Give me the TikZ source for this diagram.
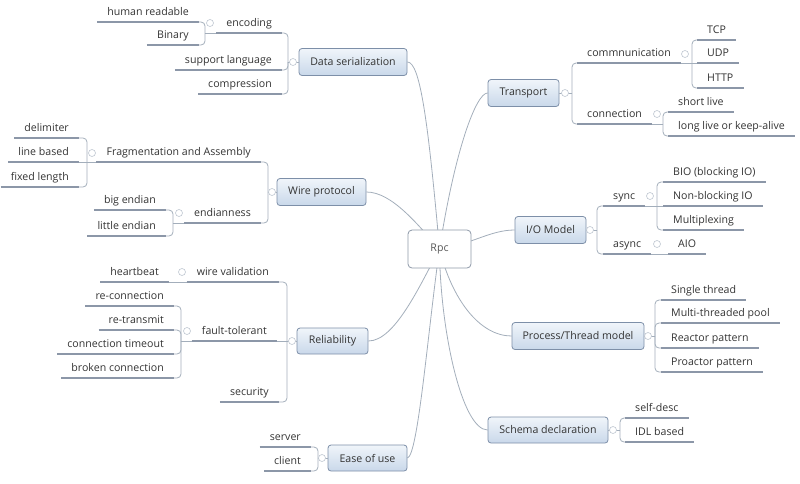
\documentclass[tikz,border=0pt]{standalone}
\usepackage{fontspec}
\setmainfont{Open Sans}
\usetikzlibrary{backgrounds}
\definecolor{txt}{HTML}{333333}
\definecolor{ulc}{HTML}{8C97A8}
\definecolor{connc}{HTML}{A3AEBB}
\definecolor{topicborder}{HTML}{7D8FA8}
\definecolor{topictop}{HTML}{F0F5FA}
\definecolor{topicbot}{HTML}{C9D8EA}
\definecolor{markc}{HTML}{BFC7D1}
\definecolor{rpcborder}{HTML}{8E99A8}
\begin{document}
\begin{tikzpicture}[x=1pt,y=-1pt, font=\fontsize{10.6}{12}\selectfont, text=txt,
  topic/.style={draw=topicborder, line width=0.8pt, rounded corners=3pt, top color=topictop, bottom color=topicbot, inner sep=0pt},
  central/.style={draw=rpcborder, line width=0.8pt, rounded corners=4pt, fill=white, inner sep=0pt, minimum width=63pt, minimum height=38pt, text=black!65},
  leaf/.style={inner xsep=10pt, inner ysep=3.9pt, text height=8pt, text depth=2.7pt},
  lleaf/.style={leaf, anchor=south east},
  rleaf/.style={leaf, anchor=south west},
  ul/.style={draw=ulc, line width=1.2pt},
  link/.style={draw=connc, line width=0.8pt, rounded corners=4pt},
  mainlink/.style={draw=connc, line width=0.8pt},
  marker/.style={circle, draw=markc, fill=white, line width=0.6pt, inner sep=0pt, minimum size=7pt}
]
\useasboundingbox (0,0) rectangle (800,483);

% central and main topics
\node[central] (rpc) at (439.5,249) {Rpc};
\node[topic, minimum width=108pt, minimum height=27pt] (ds) at (353,62) {Data serialization};
\node[topic, minimum width=89pt, minimum height=27pt] (wp) at (321.5,192) {Wire protocol};
\node[topic, minimum width=71pt, minimum height=26pt] (rel) at (332.5,341) {Reliability};
\node[topic, minimum width=79pt, minimum height=26pt] (eou) at (367.5,458) {Ease of use};
\node[topic, minimum width=71pt, minimum height=27pt] (tr) at (523.5,93) {Transport};
\node[topic, minimum width=71pt, minimum height=27pt] (io) at (550.5,230) {I/O Model};
\node[topic, minimum width=132pt, minimum height=27pt] (pt) at (578,336) {Process/Thread model};
\node[topic, minimum width=120pt, minimum height=26pt] (sc) at (548,430) {Schema declaration};

% junction coordinates
\coordinate (dsJ) at (288,62);
\coordinate (wpJ) at (268,192);
\coordinate (relJ) at (287,341);
\coordinate (eouJ) at (318,458);
\coordinate (trJ) at (572,93);
\coordinate (ioJ) at (597,230);
\coordinate (ptJ) at (655,336);
\coordinate (scJ) at (620,430);
\coordinate (encJ) at (205,33);
\coordinate (fragJ) at (87,162);
\coordinate (endJ) at (173,223);
\coordinate (ftJ) at (181,341);
\coordinate (commJ) at (692,63);
\coordinate (connJ) at (663,124);
\coordinate (syncJ) at (657,206);

% left leaves
\node[lleaf] (enc) at (282,33) {encoding};
\node[lleaf] (sup) at (282,70) {support language};
\node[lleaf] (comp) at (282,94) {compression};
\node[lleaf] (hr) at (199,22) {human readable};
\node[lleaf] (bin) at (199,45) {Binary};
\node[lleaf] (frag) at (261,162) {Fragmentation and Assembly};
\node[lleaf] (endian) at (261,223) {endianness};
\node[lleaf] (delim) at (79,138) {delimiter};
\node[lleaf] (lineb) at (79,162) {line based};
\node[lleaf] (fixl) at (79,187) {fixed length};
\node[lleaf] (big) at (166,210) {big endian};
\node[lleaf] (little) at (166,236) {little endian};
\node[lleaf] (wv) at (279,282) {wire validation};
\node[lleaf] (ft) at (277,341) {fault-tolerant};
\node[lleaf] (sec) at (279,402) {security};
\node[lleaf] (hb) at (169,282) {heartbeat};
\node[lleaf] (rec) at (174,306) {re-connection};
\node[lleaf] (retr) at (174,330) {re-transmit};
\node[lleaf] (cto) at (174,354) {connection timeout};
\node[lleaf] (broken) at (174,378) {broken connection};
\node[lleaf] (server) at (311,447) {server};
\node[lleaf] (client) at (311,471) {client};

% right leaves
\node[rleaf] (comm) at (577,63) {commnunication};
\node[rleaf] (conn) at (577,124) {connection};
\node[rleaf] (tcp) at (697,40) {TCP};
\node[rleaf] (udp) at (697,63) {UDP};
\node[rleaf] (http) at (697,88) {HTTP};
\node[rleaf] (short) at (668,112) {short live};
\node[rleaf] (long) at (668,136) {long live or keep-alive};
\node[rleaf] (sync) at (603,206) {sync};
\node[rleaf] (async) at (603,254) {async};
\node[rleaf] (bio) at (663,182) {BIO (blocking IO)};
\node[rleaf] (nbio) at (663,206) {Non-blocking IO};
\node[rleaf] (mux) at (663,230) {Multiplexing};
\node[rleaf] (aio) at (668,254) {AIO};
\node[rleaf] (single) at (661,300) {Single thread};
\node[rleaf] (multi) at (661,323) {Multi-threaded pool};
\node[rleaf] (reactor) at (661,348) {Reactor pattern};
\node[rleaf] (proactor) at (661,372) {Proactor pattern};
\node[rleaf] (selfd) at (625,418) {self-desc};
\node[rleaf] (idl) at (625,442) {IDL based};

% underlines
\foreach \n in {enc,sup,comp,hr,bin,frag,endian,delim,lineb,fixl,big,little,wv,ft,sec,hb,rec,retr,cto,broken,server,client,comm,conn,tcp,udp,http,short,long,sync,async,bio,nbio,mux,aio,single,multi,reactor,proactor,selfd,idl}
  \draw[ul] (\n.south west) -- (\n.south east);

% main curves (behind the central topic)
\begin{pgfonlayer}{background}
\draw[mainlink] (ds.east) .. controls (420,62) and (428,120) .. (rpc.center);
\draw[mainlink] (tr.west) .. controls (476,93) and (455,150) .. (rpc.center);
\draw[mainlink] (io.west) .. controls (490,230) and (470,245) .. (rpc.center);
\draw[mainlink] (pt.west) .. controls (480,336) and (452,300) .. (rpc.center);
\draw[mainlink] (sc.west) .. controls (462,430) and (440,330) .. (rpc.center);
\draw[mainlink] (eou.east) .. controls (418,456) and (428,330) .. (rpc.center);
\draw[mainlink] (wp.east) .. controls (392,192) and (418,225) .. (rpc.center);
\draw[mainlink] (rel.east) .. controls (395,341) and (420,285) .. (rpc.center);
\end{pgfonlayer}

% branch connectors
\draw[link] (ds.west) -- (dsJ);
\draw[link] (dsJ) |- (enc.south east);
\draw[link] (dsJ) |- (sup.south east);
\draw[link] (dsJ) |- (comp.south east);
\draw[link] (enc.south west) -- (encJ);
\draw[link] (encJ) |- (hr.south east);
\draw[link] (encJ) |- (bin.south east);

\draw[link] (wp.west) -- (wpJ);
\draw[link] (wpJ) |- (frag.south east);
\draw[link] (wpJ) |- (endian.south east);
\draw[link] (frag.south west) -- (fragJ);
\draw[link] (fragJ) |- (delim.south east);
\draw[link] (fragJ) -- (lineb.south east);
\draw[link] (fragJ) |- (fixl.south east);
\draw[link] (endian.south west) -- (endJ);
\draw[link] (endJ) |- (big.south east);
\draw[link] (endJ) |- (little.south east);

\draw[link] (rel.west) -- (relJ);
\draw[link] (relJ) |- (wv.south east);
\draw[link] (relJ) -- (ft.south east);
\draw[link] (relJ) |- (sec.south east);
\draw[link] (wv.south west) -- (hb.south east);
\draw[link] (ft.south west) -- (ftJ);
\draw[link] (ftJ) |- (rec.south east);
\draw[link] (ftJ) |- (retr.south east);
\draw[link] (ftJ) |- (cto.south east);
\draw[link] (ftJ) |- (broken.south east);

\draw[link] (eou.west) -- (eouJ);
\draw[link] (eouJ) |- (server.south east);
\draw[link] (eouJ) |- (client.south east);

\draw[link] (tr.east) -- (trJ);
\draw[link] (trJ) |- (comm.south west);
\draw[link] (trJ) |- (conn.south west);
\draw[link] (comm.south east) -- (commJ);
\draw[link] (commJ) |- (tcp.south west);
\draw[link] (commJ) -- (udp.south west);
\draw[link] (commJ) |- (http.south west);
\draw[link] (conn.south east) -- (connJ);
\draw[link] (connJ) |- (short.south west);
\draw[link] (connJ) |- (long.south west);

\draw[link] (io.east) -- (ioJ);
\draw[link] (ioJ) |- (sync.south west);
\draw[link] (ioJ) |- (async.south west);
\draw[link] (sync.south east) -- (syncJ);
\draw[link] (syncJ) |- (bio.south west);
\draw[link] (syncJ) -- (nbio.south west);
\draw[link] (syncJ) |- (mux.south west);
\draw[link] (async.south east) -- (aio.south west);

\draw[link] (pt.east) -- (ptJ);
\draw[link] (ptJ) |- (single.south west);
\draw[link] (ptJ) |- (multi.south west);
\draw[link] (ptJ) |- (reactor.south west);
\draw[link] (ptJ) |- (proactor.south west);

\draw[link] (sc.east) -- (scJ);
\draw[link] (scJ) |- (selfd.south west);
\draw[link] (scJ) |- (idl.south west);

% collapse markers
\node[marker] (mds) at (293,62) {};
\node[marker] (menc) at (210,23) {};
\node[marker] (mwp) at (272,192) {};
\node[marker] (mfrag) at (92,153) {};
\node[marker] (mend) at (179,213) {};
\node[marker] (mrel) at (292,341) {};
\node[marker] (mwv) at (182,272) {};
\node[marker] (mft) at (187,331) {};
\node[marker] (meou) at (322,458) {};
\node[marker] (mtr) at (565,93) {};
\node[marker] (mcomm) at (685,54) {};
\node[marker] (mconn) at (657,114) {};
\node[marker] (mio) at (590,230) {};
\node[marker] (msync) at (650,196) {};
\node[marker] (masync) at (657,244) {};
\node[marker] (mpt) at (648,336) {};
\node[marker] (msc) at (613,430) {};
\end{tikzpicture}
\end{document}
